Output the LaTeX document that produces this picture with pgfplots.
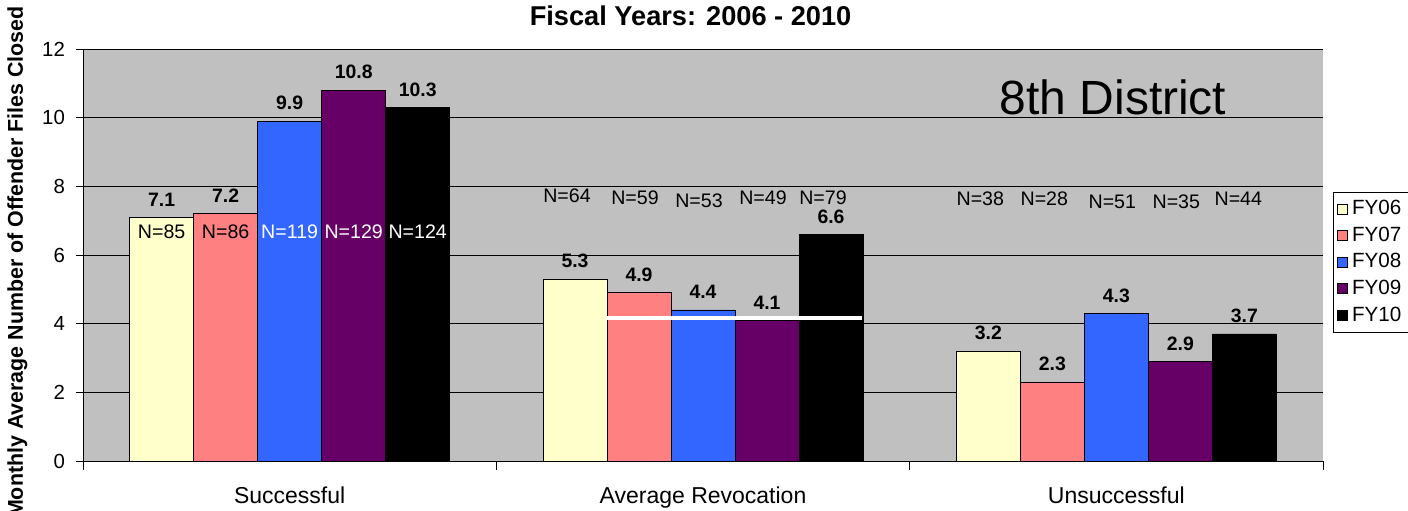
\documentclass[border=0pt]{standalone}
\usepackage{fontspec}
\setmainfont{Liberation Sans}
\usepackage{pgfplots}
\pgfplotsset{compat=1.18}
\definecolor{bg}{RGB}{192,192,192}
\definecolor{fy06}{RGB}{255,255,204}
\definecolor{fy07}{RGB}{255,128,128}
\definecolor{fy08}{RGB}{51,102,255}
\definecolor{fy09}{RGB}{102,0,102}
\definecolor{fy10}{RGB}{0,0,0}
\pgfplotsset{
  vlab/.style={nodes near coords,
    nodes near coords style={font=\bfseries\fontsize{9.7}{11}\selectfont, text=black, yshift=2pt,
      /pgf/number format/.cd, fixed, fixed zerofill, precision=1, assume math mode=true}}
}
\tikzset{nl/.style={font=\fontsize{9.8}{11}\selectfont, anchor=center}}
\begin{document}
\begin{tikzpicture}
\useasboundingbox (-41.5pt,-24.5pt) rectangle (662.5pt,230.5pt);
\begin{axis}[
  width=620pt, height=206pt, scale only axis,
  xmin=-0.5, xmax=2.5, ymin=0, ymax=12,
  ytick={0,2,...,12},
  ymajorgrids, grid style={black, line width=0.5pt},
  xtick={0,1,2}, xticklabels={Successful, Average Revocation, Unsuccessful},
  major x tick style={draw=none},
  minor xtick={-0.5,0.5,1.5,2.5},
  minor tick length=4.5pt, major tick length=3.5pt,
  tick align=outside,
  axis x line*=bottom, axis y line*=left,
  axis line style={black, line width=0.5pt},
  tick style={black, line width=0.5pt},
  axis background/.style={fill=bg},
  xticklabel style={font=\fontsize{11.5}{13}\selectfont, yshift=-6pt},
  yticklabel style={font=\fontsize{10.2}{12}\selectfont, xshift=-2pt},
  /pgf/number format/assume math mode=true,
  ybar=0pt, bar width=32pt,
  title={Fiscal Years: 2006 - 2010},
  title style={font=\bfseries\fontsize{13.6}{16}\selectfont, at={(0.49,1)}, anchor=center, yshift=10.5pt},
  ylabel={Monthly Average Number of Offender Files Closed},
  ylabel style={font=\bfseries\fontsize{10.7}{13}\selectfont, at={(axis description cs:-0.053,0.483)}, anchor=center},
  legend style={at={(1.008,0.653)}, anchor=north west, draw=black, fill=white,
    font=\fontsize{10.3}{12}\selectfont, row sep=0.6pt, inner sep=2pt},
  legend cell align=left,
  legend image code/.code={\draw[#1, draw=black, line width=0.4pt] (4.5pt,-2.5pt) rectangle (9.5pt,2.5pt);},
]
\addplot[fill=fy06, draw=black, bar shift=-64pt, vlab] coordinates {(0,7.1) (1,5.3) (2,3.2)};
\addplot[fill=fy07, draw=black, bar shift=-32pt, vlab] coordinates {(0,7.2) (1,4.9) (2,2.3)};
\addplot[fill=fy08, draw=black, bar shift=0pt, vlab] coordinates {(0,9.9) (1,4.4) (2,4.3)};
\addplot[fill=fy09, draw=black, bar shift=32pt, vlab] coordinates {(0,10.8) (1,4.1) (2,2.9)};
\addplot[fill=fy10, draw=black, bar shift=64pt, vlab] coordinates {(0,10.3) (1,6.6) (2,3.7)};
\legend{FY06, FY07, FY08, FY09, FY10}
\addplot[sharp plot, white, line width=2pt, forget plot] coordinates {(0.7653,4.17) (1.3847,4.17)};
% N labels, Successful
\node[nl, xshift=-64pt] at (axis cs:0,6.67) {N=85};
\node[nl, xshift=-32pt] at (axis cs:0,6.67) {N=86};
\node[nl, text=white] at (axis cs:0,6.67) {N=119};
\node[nl, text=white, xshift=32pt] at (axis cs:0,6.67) {N=129};
\node[nl, text=white, xshift=64pt] at (axis cs:0,6.67) {N=124};
% Average Revocation
\node[nl, xshift=-68pt] at (axis cs:1,7.72) {N=64};
\node[nl, xshift=-34pt] at (axis cs:1,7.66) {N=59};
\node[nl, xshift=-2pt] at (axis cs:1,7.58) {N=53};
\node[nl, xshift=30pt] at (axis cs:1,7.66) {N=49};
\node[nl, xshift=60pt] at (axis cs:1,7.68) {N=79};
% Unsuccessful
\node[nl, xshift=-68pt] at (axis cs:2,7.64) {N=38};
\node[nl, xshift=-36pt] at (axis cs:2,7.64) {N=28};
\node[nl, xshift=-2pt] at (axis cs:2,7.56) {N=51};
\node[nl, xshift=30pt] at (axis cs:2,7.56) {N=35};
\node[nl, xshift=61pt] at (axis cs:2,7.64) {N=44};
\node[font=\fontsize{24}{28}\selectfont, anchor=center] at (axis cs:1.992,10.6) {8th District};
\end{axis}
\end{tikzpicture}
\end{document}
